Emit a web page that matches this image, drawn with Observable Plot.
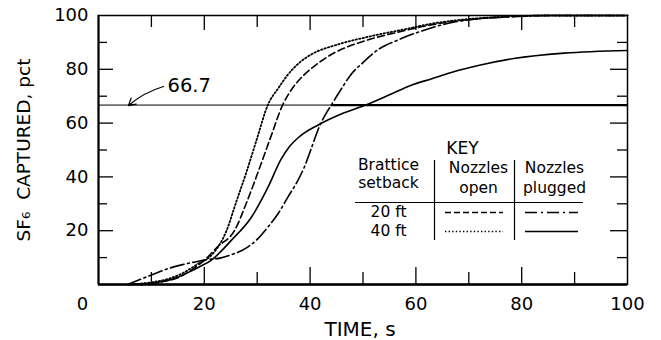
<!DOCTYPE html>
<html><head><meta charset="utf-8">
<script src="https://cdn.jsdelivr.net/npm/d3@7"></script>
<script src="https://cdn.jsdelivr.net/npm/@observablehq/plot@0.6"></script>
<style>
html,body{margin:0;padding:0;background:#fff;}
#chart{width:661px;height:340px;overflow:hidden;}
</style></head><body><div id="chart"></div>
<script>
// ---- data (time in s, SF6 captured in pct) ----
const t20open = [8,12,15,18,20,22.5,25.7,28,30.2,32.5,34.8,36.5,38.9,41,44,47,50.2,54,57.7,61,65.3,70,75,85,100];
const v20open = [0,1,2.5,6,9,14,20,30.5,42,54.5,66.7,72.5,78,81.5,85.5,88.3,90.5,92.6,94.3,95.8,97.3,98.5,99.3,100,100];
const t40open = [6,10,13,15.7,18.8,21.6,24.2,26,28,30,32,34,35.8,38,40.2,45.2,51.5,57.7,64,70,76,85,100];
const v40open = [0,0.8,2,4,7.7,11.4,20,30.5,42,54.5,66.7,73,78,82.5,85.5,89.2,92.3,94.8,97.3,98.7,99.5,100,100];
const t20plug = [5.5,8,10.6,13,15.7,18,20.7,23,25,28.2,30,32,34,35.8,37.5,38.9,40.3,41.7,43,44,46,47.7,50,53,56.5,61,66.6,72,78,85,100];
const v20plug = [0,2,4,5.8,7.3,8.3,9.3,9.8,11,13.9,16.8,21.3,26.5,32.5,38,43.6,51,58.5,63.5,66.7,73,78,82.5,87.5,90.8,94.2,97.3,98.8,99.5,100,100];
const t40plug = [6,10,14,17,19,21.3,25.1,28.9,32,34.5,36,38,41.7,46,50.5,55,59,63,67,72,78.5,88,100];
const v40plug = [0,0.5,2,4.5,6.5,9,16.4,25,36,46.5,51,55,59.5,63.5,66.7,70.5,74,76.5,79,81.5,84,86,87];

const refLevel = 66.7;          // reference line
const refLabel = "66.7";
const xTicksMajor = [20,40,60,80];
const xTicksMinor = [10,30,50,70,90];
const xTickLabels = [20,40,60,80,100];
const yTicksMajor = [20,40,60,80];
const yTicksMinor = [10,30,50,70,90];
const yTickLabels = [20,40,60,80,100];
const xTitle = "TIME, s";
const yTitle = "SF\u2086  CAPTURED, pct";
const keyTitle = "KEY";
const keyHead = ["Brattice", "setback", "Nozzles", "open", "Nozzles", "plugged"];
const keyRows = ["20 ft", "40 ft"];

// ---- layout ----
const W = 661, H = 340;
const M = {left: 98, right: 34, top: 15, bottom: 56};
const PW = W - M.left - M.right, PH = H - M.top - M.bottom;
const X = p => (p - M.left) / PW * 100;   // pixel -> data (annotations only)
const Y = p => (H - M.bottom - p) / PH * 100;
const LX = p => p / PW * 100;             // pixel length -> data length
const LY = p => p / PH * 100;
const FONT = "DejaVu Sans, Liberation Sans, sans-serif";

const toRows = (t, v) => t.map((d, i) => ({t: d, v: v[i]}));
const s20open = toRows(t20open, v20open);
const s40open = toRows(t40open, v40open);
const s20plug = toRows(t20plug, v20plug);
const s40plug = toRows(t40plug, v40plug);

const headPos = [
  {x: X(388), y: Y(165)}, {x: X(388), y: Y(183)},
  {x: X(478), y: Y(168)}, {x: X(478), y: Y(188)},
  {x: X(554), y: Y(168)}, {x: X(554), y: Y(188)}
];
const rowY = [Y(212), Y(231)];
const lineOpts = {x: "t", y: "v", stroke: "#000", strokeWidth: 1.6, curve: "monotone-x"};
const tk = {stroke: "#000", strokeWidth: 1.3};

const chart = Plot.plot({
  width: W, height: H,
  marginLeft: M.left, marginRight: M.right, marginTop: M.top, marginBottom: M.bottom,
  x: {domain: [0, 100]},
  y: {domain: [0, 100]},
  style: {fontFamily: FONT, color: "#000", background: "#fff", overflow: "visible"},
  marks: [
    // inward ticks on all four sides
    Plot.ruleX(xTicksMajor, {x: d => d, y1: 0, y2: LY(17), ...tk}),
    Plot.ruleX(xTicksMinor, {x: d => d, y1: 0, y2: LY(12), ...tk}),
    Plot.ruleX(xTicksMajor, {x: d => d, y1: 100, y2: 100 - LY(15), ...tk}),
    Plot.ruleX(xTicksMinor, {x: d => d, y1: 100, y2: 100 - LY(12), ...tk}),
    Plot.ruleY(yTicksMajor, {y: d => d, x1: 0, x2: LX(15), ...tk}),
    Plot.ruleY(yTicksMinor, {y: d => d, x1: 0, x2: LX(9), ...tk}),
    Plot.ruleY(yTicksMajor, {y: d => d, x1: 100, x2: 100 - LX(17), ...tk}),
    Plot.ruleY(yTicksMinor, {y: d => d, x1: 100, x2: 100 - LX(10), ...tk}),
    // tick labels
    Plot.axisX(xTickLabels, {anchor: "bottom", tickSize: 0, tickPadding: 13, fontSize: 18, label: null}),
    Plot.axisX([0], {anchor: "bottom", tickSize: 0, tickPadding: 13, fontSize: 18, label: null, dx: -16}),
    Plot.axisY(yTickLabels, {anchor: "left", tickSize: 0, tickPadding: 10, fontSize: 18, label: null}),
    // frame
    Plot.frame({stroke: "#000", strokeWidth: 1.5}),
    Plot.ruleY([0], {stroke: "#000", strokeWidth: 2.6}),
    Plot.ruleX([0], {stroke: "#000", strokeWidth: 2}),
    // reference line
    Plot.ruleY([refLevel], {stroke: "#000", strokeWidth: 1}),
    Plot.ruleY([refLevel], {x1: 44, x2: 100, stroke: "#000", strokeWidth: 2.2}),
    Plot.arrow([{x1: X(163), y1: Y(86), x2: X(128), y2: Y(105)}], {x1: "x1", y1: "y1", x2: "x2", y2: "y2", bend: -12, headLength: 9, strokeWidth: 1.3, stroke: "#000"}),
    Plot.text([refLabel], {x: X(167), y: Y(85), text: d => d, textAnchor: "start", lineAnchor: "middle", fontSize: 19.5}),
    // curves
    Plot.line(s20open, {...lineOpts, strokeDasharray: "7,3.5"}),
    Plot.line(s40open, {...lineOpts, strokeDasharray: "1.4,2.2", strokeWidth: 1.8}),
    Plot.line(s20plug, {...lineOpts, strokeDasharray: "14,3.5,2,3.5"}),
    Plot.line(s40plug, {...lineOpts}),
    // key
    Plot.text([keyTitle], {x: X(462), y: Y(148), text: d => d, fontSize: 17, lineAnchor: "middle"}),
    Plot.text(keyHead, {x: (d, i) => headPos[i].x, y: (d, i) => headPos[i].y, text: d => d, fontSize: 15.5, lineAnchor: "middle"}),
    Plot.text(keyRows, {x: X(388), y: (d, i) => rowY[i], text: d => d, fontSize: 15.5, lineAnchor: "middle"}),
    Plot.ruleY([Y(202)], {x1: X(355), x2: X(583), stroke: "#000", strokeWidth: 1.2}),
    Plot.ruleX([X(434), X(514)], {y1: Y(160), y2: Y(240), stroke: "#000", strokeWidth: 1.2}),
    Plot.ruleY([rowY[0]], {x1: X(445), x2: X(503), stroke: "#000", strokeWidth: 1.5, strokeDasharray: "6,3"}),
    Plot.ruleY([rowY[1]], {x1: X(445), x2: X(503), stroke: "#000", strokeWidth: 1.6, strokeDasharray: "1.4,2.2"}),
    Plot.ruleY([rowY[0]], {x1: X(525), x2: X(578), stroke: "#000", strokeWidth: 1.5, strokeDasharray: "12,4,2,4"}),
    Plot.ruleY([rowY[1]], {x1: X(525), x2: X(578), stroke: "#000", strokeWidth: 1.5}),
    // axis titles
    Plot.text([xTitle], {frameAnchor: "bottom", text: d => d, dx: -3, dy: 45, fontSize: 20, textAnchor: "middle", lineAnchor: "middle"}),
    Plot.text([yTitle], {frameAnchor: "left", text: d => d, rotate: -90, dx: -74, fontSize: 18.5, textAnchor: "middle", lineAnchor: "middle"})
  ]
});
document.getElementById("chart").appendChild(chart);
</script>
</body></html>
